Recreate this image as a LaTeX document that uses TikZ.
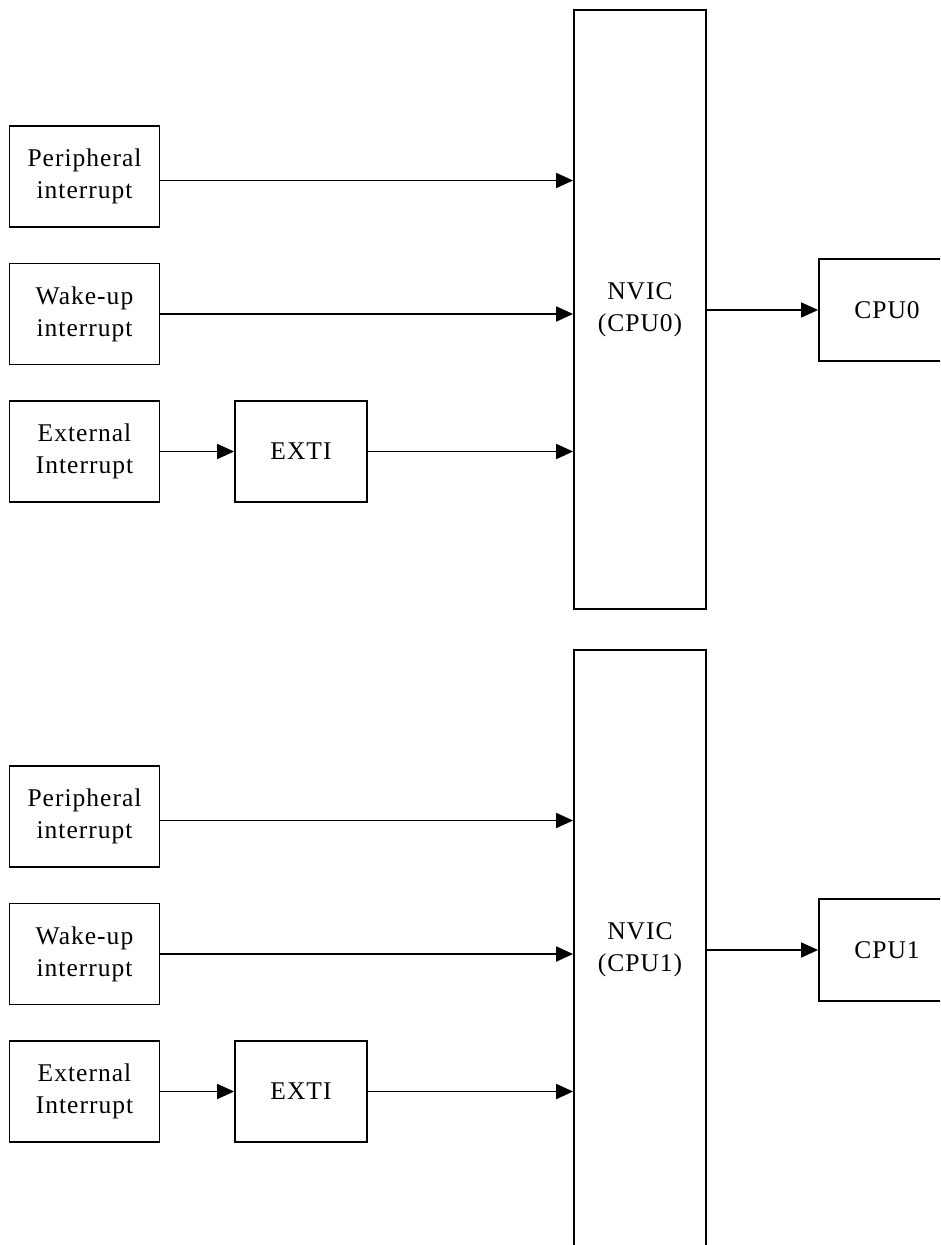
\documentclass[tikz,border=0pt]{standalone}
\usepackage{fontspec}
\setmainfont{Liberation Serif}[LetterSpace=4]
\usetikzlibrary{arrows.meta,positioning}

\begin{document}
\begin{tikzpicture}[
  x=1pt,y=-1pt,
  font=\fontsize{25.5}{32}\selectfont,
  >={Triangle[length=17pt,width=15pt]},
  blk/.style={draw,line width=1.8pt,align=center,inner sep=0pt},
  src/.style={blk,minimum width=150pt,minimum height=101pt},
  wire/.style={->,line width=1.8pt},
]
\useasboundingbox (0,0) rectangle (940,1245);
\clip (0,0) rectangle (940,1245);

% ---------- two identical halves, one per core ----------
\foreach \k/\dy in {0/0,1/640}{
\begin{scope}[yshift=-\dy pt]
  % interrupt sources
  \node[src] (per\k) at (84.5,176.5) {Peripheral\\interrupt};
  \node[src] (wak\k) at (84.5,314) {Wake-up\\interrupt};
  \node[src] (ext\k) at (84.5,451.5) {External\\Interrupt};
  \node[blk,minimum width=132pt,minimum height=101pt] (exti\k) at (301,451.5) {EXTI};
  % controller and core
  \node[blk,minimum width=132pt,minimum height=599pt] (nvic\k) at (640,309.5) {NVIC\\(CPU\k)};
  \node[blk,minimum width=136pt,minimum height=102pt] (cpu\k) at (887,310) {CPU\k};

  % ---------- arrows ----------
  \draw[wire] ([yshift=-4pt]per\k.east) -- ([yshift=-4pt]per\k.east -| nvic\k.west);
  \draw[wire] (wak\k.east) -- (wak\k.east -| nvic\k.west);
  \draw[wire] (ext\k.east) -- (exti\k.west);
  \draw[wire] (exti\k.east) -- (exti\k.east -| nvic\k.west);
  \draw[wire] (nvic\k.east |- cpu\k.west) -- (cpu\k.west);
\end{scope}
}
\end{tikzpicture}
\end{document}
